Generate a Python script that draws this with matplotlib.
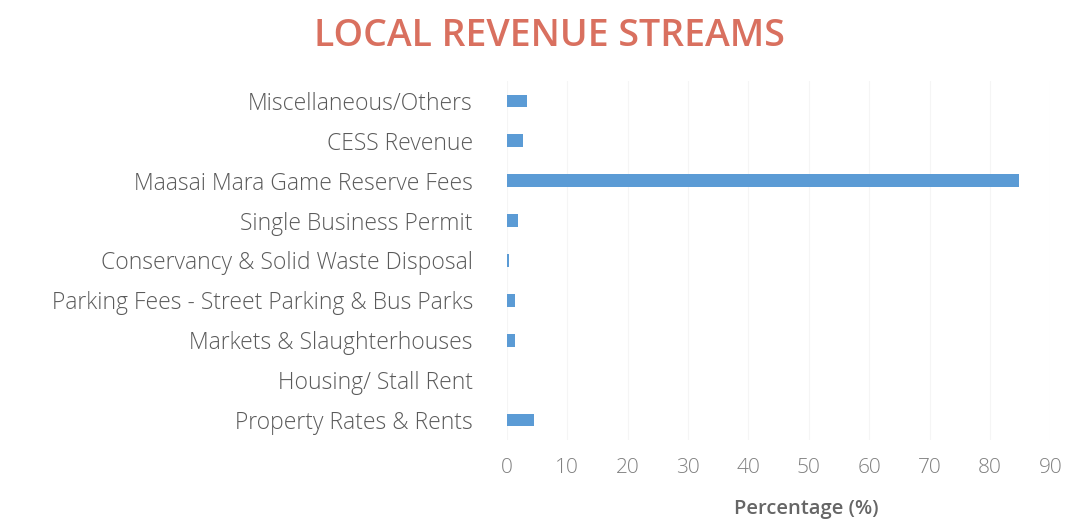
import matplotlib
matplotlib.use("Agg")
import matplotlib.pyplot as plt

categories = [
    "Property Rates & Rents",
    "Housing/ Stall Rent",
    "Markets & Slaughterhouses",
    "Parking Fees - Street Parking & Bus Parks",
    "Conservancy & Solid Waste Disposal",
    "Single Business Permit",
    "Maasai Mara Game Reserve Fees",
    "CESS Revenue",
    "Miscellaneous/Others",
]
shares = [4.5, 0.0, 1.3, 1.3, 0.4, 1.8, 84.9, 2.6, 3.3]
xticks = [0, 10, 20, 30, 40, 50, 60, 70, 80, 90]

plt.rcParams["font.family"] = ["Open Sans", "DejaVu Sans"]

fig = plt.figure(figsize=(10.75, 5.23), dpi=100)
ax = fig.add_axes([0.4716, 0.159, 0.5054, 0.686])

ax.barh(range(len(categories)), shares, height=0.32, color="#5b9bd5")
ax.set_xlim(0, 90)
ax.set_ylim(-0.5, len(categories) - 0.5)
ax.set_yticks(range(len(categories)))
ax.set_yticklabels(categories, fontsize=16.5, color="#5a5a5a", fontweight="light")
ax.set_xticks(xticks)
ax.set_xticklabels([str(t) for t in xticks], fontsize=15, color="#808080",
                   fontweight="light")
ax.tick_params(axis="both", length=0)
ax.tick_params(axis="y", pad=24.5)
ax.tick_params(axis="x", pad=13)
ax.grid(axis="x", color="#f5f5f5", linewidth=0.8)
ax.set_axisbelow(True)
for s in ax.spines.values():
    s.set_visible(False)

ax.set_xlabel("Percentage (%)", fontsize=14.5, color="#666666",
              fontweight="semibold")
ax.xaxis.set_label_coords(0.55, -0.165)
fig.suptitle("LOCAL REVENUE STREAMS", fontsize=27, fontweight="semibold",
             color="#d9705f", x=0.511, y=0.968)

fig.savefig("out.png", dpi=100, facecolor="white")
